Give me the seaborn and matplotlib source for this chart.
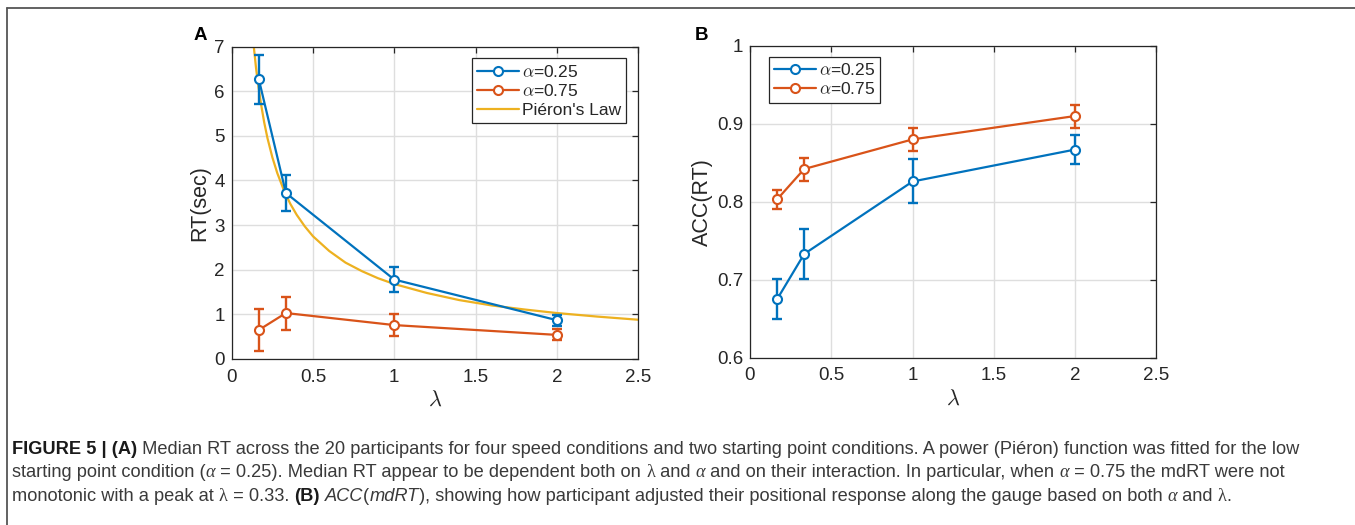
import matplotlib
matplotlib.use("Agg")
import matplotlib.pyplot as plt
from matplotlib import font_manager
from matplotlib.lines import Line2D
import numpy as np
import pandas as pd
import seaborn as sns

# %% data
lam = [1/6, 1/3, 1.0, 2.0]

rt_a25 = [6.27, 3.72, 1.78, 0.87]
rt_a25_lo = [5.72, 3.31, 1.51, 0.75]
rt_a25_hi = [6.82, 4.13, 2.06, 0.99]
rt_a75 = [0.65, 1.03, 0.76, 0.54]
rt_a75_lo = [0.19, 0.66, 0.51, 0.42]
rt_a75_hi = [1.13, 1.40, 1.01, 0.67]

# Pieron fit, sampled along the drawn curve
pieron_x = [0.135, 0.15, 0.16, 0.18, 0.2, 0.22, 0.25, 0.28, 0.32, 0.36, 0.4,
            0.45, 0.5, 0.6, 0.7, 0.8, 0.9, 1.0, 1.2, 1.4, 1.6, 1.8, 2.0,
            2.25, 2.5]
pieron_y = [7.03, 6.51, 6.22, 5.72, 5.30, 4.95, 4.52, 4.17, 3.79, 3.48, 3.23,
            2.97, 2.75, 2.42, 2.16, 1.97, 1.81, 1.68, 1.48, 1.32, 1.20, 1.11,
            1.03, 0.95, 0.88]

acc_a25 = [0.675, 0.733, 0.826, 0.867]
acc_a25_lo = [0.649, 0.701, 0.798, 0.848]
acc_a25_hi = [0.701, 0.765, 0.855, 0.886]
acc_a75 = [0.803, 0.842, 0.880, 0.910]
acc_a75_lo = [0.791, 0.827, 0.865, 0.895]
acc_a75_hi = [0.815, 0.856, 0.895, 0.924]

labels = [r'$\alpha$=0.25', r'$\alpha$=0.75']

# %% style
sns.set_theme(style="white")
plt.rcParams['font.family'] = ['Liberation Sans', 'DejaVu Sans']
plt.rcParams['mathtext.fontset'] = 'cm'

BLUE = '#0072BD'
ORANGE = '#D95319'
YELLOW = '#EDB120'
DARK = '#262626'


def has_font(name):
    try:
        font_manager.findfont(name, fallback_to_default=False)
        return True
    except Exception:
        return False


def style_axes(ax, xlim, ylim, yticks):
    ax.set_xlim(xlim)
    ax.set_ylim(ylim)
    ax.set_xticks([0, 0.5, 1, 1.5, 2, 2.5])
    ax.set_xticklabels(['0', '0.5', '1', '1.5', '2', '2.5'])
    ax.set_yticks(yticks)
    ax.grid(True, color='#dedede', lw=1)
    ax.set_axisbelow(True)
    for s in ax.spines.values():
        s.set_color(DARK)
        s.set_linewidth(0.9)
        s.set_visible(True)
    ax.tick_params(direction='in', top=True, right=True, length=4,
                   width=0.9, color=DARK, labelcolor=DARK, labelsize=13.5)
    ax.tick_params(axis='x', pad=7)
    ax.tick_params(axis='y', pad=5)


def draw_series(ax, df, col, lo, hi, color):
    y = df[col].to_numpy()
    yerr = [y - np.array(lo), np.array(hi) - y]
    ax.errorbar(df['lam'], y, yerr=yerr, fmt='none', ecolor=color,
                elinewidth=1.7, capsize=3.5, capthick=1.7, zorder=3)
    sns.lineplot(data=df, x='lam', y=col, ax=ax, color=color, lw=1.6,
                 marker='o', markersize=6.5, markerfacecolor='white',
                 markeredgecolor=color, markeredgewidth=1.5, zorder=4,
                 legend=False)


df_rt = pd.DataFrame({'lam': lam, 'a25': rt_a25, 'a75': rt_a75})
df_acc = pd.DataFrame({'lam': lam, 'a25': acc_a25, 'a75': acc_a75})
df_pieron = pd.DataFrame({'x': pieron_x, 'y': pieron_y})

fig = plt.figure(figsize=(13.55, 5.25), dpi=100)
ax1 = fig.add_axes([0.171, 0.3162, 0.2999, 0.595])
ax2 = fig.add_axes([0.5535, 0.3187, 0.300, 0.594])

# %% panel A
sns.lineplot(data=df_pieron, x='x', y='y', ax=ax1, color=YELLOW, lw=1.6,
             zorder=2, legend=False)
draw_series(ax1, df_rt, 'a25', rt_a25_lo, rt_a25_hi, BLUE)
draw_series(ax1, df_rt, 'a75', rt_a75_lo, rt_a75_hi, ORANGE)
style_axes(ax1, (0, 2.5), (0, 7), range(0, 8))
ax1.set_xlabel(r'$\lambda$', fontsize=16, color=DARK, labelpad=3)
ax1.set_ylabel('RT(sec)', fontsize=15.5, color=DARK, labelpad=3)

def handle(color, marker=True):
    return Line2D([], [], color=color, lw=1.6, marker='o' if marker else None,
                  markersize=6.5, markerfacecolor='white',
                  markeredgecolor=color, markeredgewidth=1.5)

leg1 = ax1.legend([handle(BLUE), handle(ORANGE), handle(YELLOW, False)],
                  labels + ["Piéron's Law"], loc='upper right',
                  bbox_to_anchor=(0.97, 0.962), fontsize=12.5,
                  handlelength=2.4, handletextpad=0.15, labelspacing=0.2,
                  borderpad=0.3, fancybox=False, framealpha=1,
                  edgecolor=DARK, borderaxespad=0)
leg1.get_frame().set_linewidth(0.9)

# %% panel B
draw_series(ax2, df_acc, 'a25', acc_a25_lo, acc_a25_hi, BLUE)
draw_series(ax2, df_acc, 'a75', acc_a75_lo, acc_a75_hi, ORANGE)
style_axes(ax2, (0, 2.5), (0.6, 1.0), [0.6, 0.7, 0.8, 0.9, 1.0])
ax2.set_yticklabels(['0.6', '0.7', '0.8', '0.9', '1'])
ax2.set_xlabel(r'$\lambda$', fontsize=16, color=DARK, labelpad=3)
ax2.set_ylabel('ACC(RT)', fontsize=15.5, color=DARK, labelpad=3)
leg2 = ax2.legend([handle(BLUE), handle(ORANGE)], labels, loc='upper left',
                  bbox_to_anchor=(0.047, 0.965), fontsize=12.5,
                  handlelength=2.4, handletextpad=0.15, labelspacing=0.2,
                  borderpad=0.3, fancybox=False, framealpha=1,
                  edgecolor=DARK, borderaxespad=0)
leg2.get_frame().set_linewidth(0.9)

fig.text(200 / 1355, 1 - 36 / 525, 'A', fontsize=13.5, fontweight='bold',
         ha='center', va='center', color='black')
fig.text(702 / 1355, 1 - 36 / 525, 'B', fontsize=13.5, fontweight='bold',
         ha='center', va='center', color='black')

# %% caption box lines
fig.add_artist(Line2D([7 / 1355, 1], [1 - 8 / 525, 1 - 8 / 525],
                      transform=fig.transFigure, color='#555555', lw=1.3))
fig.add_artist(Line2D([7 / 1355, 7 / 1355], [0, 1 - 8 / 525],
                      transform=fig.transFigure, color='#555555', lw=1.3))

# %% caption text, drawn as runs of differently styled text
cap_family = ['Liberation Sans Narrow', 'Liberation Sans', 'DejaVu Sans'] \
    if has_font('Liberation Sans Narrow') else ['Liberation Sans', 'DejaVu Sans']
greek = dict(family=['Liberation Serif', 'DejaVu Serif'], style='italic')
plain = dict(family=cap_family)
bold = dict(family=cap_family, weight='bold')
ital = dict(family=cap_family, style='italic')
lamb = dict(family=['Liberation Serif', 'DejaVu Serif'])

caption = [
    [("FIGURE 5 | (A)", bold),
     (" Median RT across the 20 participants for four speed conditions and "
      "two starting point conditions. A power (Piéron) function was fitted "
      "for the low", plain)],
    [("starting point condition (", plain), ("α", greek),
     (" = 0.25). Median RT appear to be dependent both on ", plain),
     ("λ", lamb), (" and ", plain), ("α", greek),
     (" and on their interaction. In particular, when ", plain),
     ("α", greek), (" = 0.75 the mdRT were not", plain)],
    [("monotonic with a peak at ", plain), ("λ", lamb),
     (" = 0.33. ", plain), ("(B)", bold), (" ", plain),
     ("ACC", ital), ("(", plain), ("mdRT", ital), (")", plain),
     (", showing how participant adjusted their positional response along "
      "the gauge based on both ", plain), ("α", greek), (" and ", plain),
     ("λ", lamb), (".", plain)],
]

renderer = fig.canvas.get_renderer()


def line_width(runs, size):
    total = 0
    for txt, props in runs:
        t = fig.text(0, 0, txt, fontsize=size, **props)
        total += t.get_window_extent(renderer).width
        t.remove()
    return total

base = 10.0
cap_size = base * 1293 / line_width(caption[0], base)

baselines = [454, 477, 501]
for runs, yb in zip(caption, baselines):
    x = 12
    for txt, props in runs:
        col = '#1a1a1a' if props.get('weight') == 'bold' else '#3a3a3a'
        t = fig.text(x / 1355, 1 - yb / 525, txt, fontsize=cap_size,
                     color=col, va='baseline', ha='left', **props)
        x += t.get_window_extent(renderer).width

fig.savefig('out.png', dpi=100)
